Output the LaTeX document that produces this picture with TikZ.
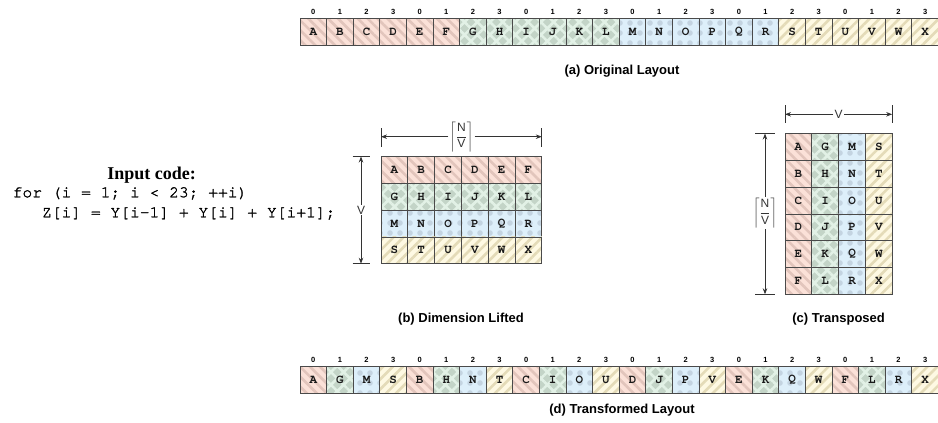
\documentclass[tikz,border=0pt]{standalone}
\usepackage{fontspec}
\setmainfont{Liberation Serif}
\setsansfont{Liberation Sans}
\setmonofont{TeX Gyre Cursor}
\newfontfamily\codefont[FakeBold=1.6]{TeX Gyre Cursor}
\usetikzlibrary{patterns.meta,arrows.meta}
\definecolor{rF}{HTML}{FBE1D8}
\definecolor{rP}{HTML}{E2C5BC}
\definecolor{gF}{HTML}{C3D4C7}
\definecolor{gP}{HTML}{E2F1E6}
\definecolor{bF}{HTML}{DDEFFA}
\definecolor{bP}{HTML}{C4D4E1}
\definecolor{yF}{HTML}{FEF9E3}
\definecolor{yP}{HTML}{E4DBB8}
\definecolor{cellline}{HTML}{4A4A4A}
\definecolor{dimcol}{HTML}{333333}
\tikzset{
  cellbase/.style={draw=cellline, line width=0.8pt, minimum width=26.6pt, minimum height=27pt, inner sep=0pt,
    font=\ttfamily\bfseries\fontsize{12.5}{13}\selectfont, text=black!90},
  cell0/.style={cellbase, preaction={fill=rF}, pattern={Lines[angle=-45,distance=7pt,line width=2.6pt]}, pattern color=rP},
  cell1/.style={cellbase, preaction={fill=gF}, pattern={Hatch[angle=45,distance=9pt,line width=2.6pt]}, pattern color=gP},
  cell2/.style={cellbase, preaction={fill=bF}, pattern={Dots[radius=2.8pt,distance=10pt]}, pattern color=bP},
  cell3/.style={cellbase, preaction={fill=yF}, pattern={Lines[angle=45,distance=7pt,line width=2.6pt]}, pattern color=yP},
  idx/.style={font=\sffamily\bfseries\fontsize{7.5}{8}\selectfont, inner sep=0pt},
  captext/.style={font=\sffamily\bfseries\fontsize{13}{15}\selectfont, inner sep=0pt},
  dimline/.style={draw=dimcol, line width=0.8pt},
  dimarrow/.style={dimline, -{Stealth[length=6pt,width=4.5pt]}},
  dimlab/.style={font=\sffamily\fontsize{12}{14}\selectfont, inner sep=1pt, text=dimcol},
}
\newcommand{\ceilNV}{$\displaystyle\left\lceil\frac{\mbox{\sffamily N}}{\mbox{\sffamily V}}\right\rceil$}
\begin{document}
\begin{tikzpicture}[x=1pt,y=-1pt]
\useasboundingbox (0,0) rectangle (938,423);
% (a) original layout
\foreach \L [count=\k from 0] in {A,B,C,D,E,F,G,H,I,J,K,L,M,N,O,P,Q,R,S,T,U,V,W,X}{
  \pgfmathtruncatemacro{\g}{\k/6}
  \pgfmathtruncatemacro{\m}{mod(\k,4)}
  \node[cell\g] (a\k) at ({313.3+26.6*\k},32) {\L};
  \node[idx] (ai\k) at ({313.3+26.6*\k},12) {\m};
}
\node[captext] (capa) at (622,71) {(a) Original Layout};
% (d) transformed layout
\foreach \L [count=\k from 0] in {A,G,M,S,B,H,N,T,C,I,O,U,D,J,P,V,E,K,Q,W,F,L,R,X}{
  \pgfmathtruncatemacro{\g}{mod(\k,4)}
  \node[cell\g] (d\k) at ({313.3+26.6*\k},380) {\L};
  \node[idx] (di\k) at ({313.3+26.6*\k},360) {\g};
}
\node[captext] (capd) at (622,410) {(d) Transformed Layout};
% (b) dimension lifted
\foreach \row [count=\r from 0] in {{A,B,C,D,E,F},{G,H,I,J,K,L},{M,N,O,P,Q,R},{S,T,U,V,W,X}}{
  \foreach \L [count=\c from 0] in \row {
    \node[cell\r, minimum width=26.8pt, minimum height=26.8pt] (b-\r-\c) at ({381+13.4+26.8*\c},{156.5+13.4+26.8*\r}) {\L};
  }
}
\node[captext] (capb) at (461,319) {(b) Dimension Lifted};
% (c) transposed
\foreach \col [count=\c from 0] in {{A,B,C,D,E,F},{G,H,I,J,K,L},{M,N,O,P,Q,R},{S,T,U,V,W,X}}{
  \foreach \L [count=\r from 0] in \col {
    \node[cell\c, minimum width=26.8pt, minimum height=26.8pt] (c-\r-\c) at ({785+13.4+26.8*\c},{133.5+13.4+26.8*\r}) {\L};
  }
}
\node[captext] (capc) at (838.6,319) {(c) Transposed};
% dimensions of (b)
\coordinate (bhl) at (381,136.7); \coordinate (bhr) at (541.8,136.7);
\coordinate (bhlt) at (381,128); \coordinate (bhlb) at (381,147);
\coordinate (bhrt) at (541.8,128); \coordinate (bhrb) at (541.8,147);
\draw[dimline] (bhlt) -- (bhlb); \draw[dimline] (bhrt) -- (bhrb);
\node[dimlab] (bN) at (461.4,136.7) {\ceilNV};
\draw[dimarrow] (bN) -- (bhl); \draw[dimarrow] (bN) -- (bhr);
\coordinate (bvt) at (361,156.5); \coordinate (bvb) at (361,263.7);
\coordinate (bvtl) at (352.5,156.5); \coordinate (bvtr) at (370,156.5);
\coordinate (bvbl) at (352.5,263.7); \coordinate (bvbr) at (370,263.7);
\draw[dimline] (bvtl) -- (bvtr); \draw[dimline] (bvbl) -- (bvbr);
\node[dimlab] (bV) at (361,210) {V};
\draw[dimarrow] (bV) -- (bvt); \draw[dimarrow] (bV) -- (bvb);
% dimensions of (c)
\coordinate (chl) at (785,114.3); \coordinate (chr) at (892.2,114.3);
\coordinate (chlt) at (785,105); \coordinate (chlb) at (785,123);
\coordinate (chrt) at (892.2,105); \coordinate (chrb) at (892.2,123);
\draw[dimline] (chlt) -- (chlb); \draw[dimline] (chrt) -- (chrb);
\node[dimlab] (cV) at (838.6,114.3) {V};
\draw[dimarrow] (cV) -- (chl); \draw[dimarrow] (cV) -- (chr);
\coordinate (cvt) at (765,133.5); \coordinate (cvb) at (765,294.3);
\coordinate (cvtl) at (755,133.5); \coordinate (cvtr) at (775,133.5);
\coordinate (cvbl) at (755,294.3); \coordinate (cvbr) at (775,294.3);
\draw[dimline] (cvtl) -- (cvtr); \draw[dimline] (cvbl) -- (cvbr);
\node[dimlab] (cN) at (765,213) {\ceilNV};
\draw[dimarrow] (cN) -- (cvt); \draw[dimarrow] (cN) -- (cvb);
% input code
\node[font=\rmfamily\bfseries\fontsize{18}{20}\selectfont, inner sep=0pt] (title) at (151.7,175) {Input code:};
\node[font=\codefont\fontsize{16.3}{20}\selectfont, align=left, anchor=north west, inner sep=0pt] (code) at (12.5,187)
  {for (i = 1; i < 23; ++i)\\\ \ \ Z[i] = Y[i-1] + Y[i] + Y[i+1];};
\end{tikzpicture}
\end{document}
